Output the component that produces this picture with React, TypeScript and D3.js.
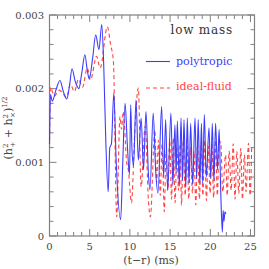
import React, { useEffect, useRef } from 'react';
import * as d3 from 'd3';

// amplitudes in units of 1e-3
const polyT = [0, 0.12, 0.35, 0.8, 1.3, 1.75, 2.15, 2.5, 2.8, 3.2, 3.65, 4.0, 4.4, 4.7, 4.95, 5.35, 5.75, 6.15, 6.5, 6.75, 7.0, 7.3, 7.5, 7.7, 8.0, 8.3, 8.85, 9.1, 9.4, 9.7, 9.95, 10.1, 10.25, 10.45, 10.76, 11.05, 11.4, 11.7, 12.0, 12.3, 12.5, 12.9, 13.2, 13.5, 13.95, 14.2, 14.45, 14.7, 15.1, 15.35, 15.6, 15.75, 15.9, 16.15, 16.36, 16.55, 16.73, 16.95, 17.14, 17.35, 17.56, 17.8, 18.1, 18.3, 18.5, 18.7, 18.9, 19.05, 19.26, 19.5, 19.84, 20.05, 20.25, 20.45, 20.66, 20.9, 21.1, 21.3, 21.5, 21.6, 21.7, 21.83, 21.95];
const polyV = [1.25, 1.92, 1.83, 1.98, 2.11, 1.95, 1.86, 2.05, 2.27, 2.1, 2.0, 2.2, 2.46, 2.25, 2.13, 2.4, 2.73, 2.53, 2.87, 2.3, 1.3, 0.6, 1.2, 1.25, 1.94, 1.0, 0.22, 0.95, 1.8, 1.2, 0.83, 1.78, 1.2, 0.95, 1.85, 1.03, 1.6, 0.9, 1.69, 0.85, 0.63, 1.67, 0.9, 0.58, 1.76, 0.8, 1.58, 0.62, 1.67, 0.7, 1.51, 0.85, 1.56, 0.68, 1.6, 0.75, 1.58, 0.66, 1.6, 0.72, 1.53, 0.7, 1.6, 0.78, 1.58, 0.7, 1.53, 0.72, 1.65, 0.8, 1.47, 0.78, 1.53, 0.75, 1.53, 0.9, 1.45, 0.6, 0.05, 0.35, 0.2, 0.33, 0.3];

const idealT = [0, 0.12, 0.6, 1.2, 1.7, 2.1, 2.6, 3.1, 3.6, 4.1, 4.7, 5.1, 5.85, 6.3, 7.2, 7.6, 7.95, 8.36, 8.77, 8.95, 9.18, 9.6, 9.8, 10.2, 10.6, 11.05, 11.4, 11.9, 12.3, 12.55, 13.1, 13.32, 13.55, 13.78, 14.0, 14.28, 14.5, 14.72, 14.95, 15.18, 15.4, 15.62, 15.85, 16.05, 16.25, 16.42, 16.65, 16.88, 17.1, 17.32, 17.55, 17.78, 17.98, 18.2, 18.42, 18.65, 18.88, 19.08, 19.3, 19.52, 19.75, 19.98, 20.2, 20.42, 20.65, 20.88, 21.08, 21.3, 21.55, 21.9, 22.1, 22.35, 22.6, 22.85, 23.08, 23.3, 23.55, 23.8, 24.0, 24.25, 24.45, 24.75, 24.95, 25.15];
const idealV = [1.2, 2.02, 1.9, 1.98, 1.93, 1.88, 2.06, 1.96, 2.13, 2.02, 2.28, 2.12, 2.44, 2.28, 2.84, 2.6, 2.37, 0.26, 1.62, 1.45, 1.69, 1.0, 0.9, 0.45, 1.4, 2.01, 0.67, 1.49, 0.49, 0.26, 1.44, 0.72, 1.3, 0.55, 1.25, 0.33, 1.15, 0.62, 1.3, 0.5, 1.33, 0.45, 1.2, 0.62, 1.25, 0.42, 1.3, 0.55, 1.33, 0.5, 1.2, 0.58, 1.15, 0.42, 1.25, 0.5, 1.28, 0.55, 1.3, 0.48, 1.22, 0.58, 1.25, 0.52, 1.3, 0.55, 1.2, 1.28, 0.6, 1.1, 0.55, 1.15, 0.62, 1.25, 0.5, 1.15, 0.58, 1.19, 0.5, 1.1, 0.6, 1.26, 0.55, 1.2];

const xTicks = [0, 5, 10, 15, 20, 25];
const yTicks = [0, 1, 2, 3];
const yTickLabels = ['0', '0.001', '0.002', '0.003'];

const App = () => {
  const ref = useRef<SVGSVGElement>(null);

  useEffect(() => {
    const svg = d3.select(ref.current);
    svg.selectAll('*').remove();

    const x = d3.scaleLinear().domain([0, 25.5]).range([49.5, 254.5]);
    const y = d3.scaleLinear().domain([0, 3]).range([236, 15]);
    const axisCol = '#808080';
    const font = 'DejaVu Serif';

    // frame
    svg.append('rect')
      .attr('x', x(0)).attr('y', y(3))
      .attr('width', x(25.5) - x(0)).attr('height', y(0) - y(3))
      .attr('fill', 'none').attr('stroke', axisCol).attr('stroke-width', 1.2);

    // ticks on all four sides
    const xMinor = d3.range(0, 26, 1);
    xMinor.forEach((t) => {
      const len = t % 5 === 0 ? 7 : 4;
      svg.append('line').attr('x1', x(t)).attr('x2', x(t)).attr('y1', y(0)).attr('y2', y(0) - len)
        .attr('stroke', axisCol);
      svg.append('line').attr('x1', x(t)).attr('x2', x(t)).attr('y1', y(3)).attr('y2', y(3) + len)
        .attr('stroke', axisCol);
    });
    const yMinor = d3.range(0, 16).map((i) => i * 0.2);
    yMinor.forEach((v, i) => {
      const len = i % 5 === 0 ? 7 : 4;
      svg.append('line').attr('x1', x(0)).attr('x2', x(0) + len).attr('y1', y(v)).attr('y2', y(v))
        .attr('stroke', axisCol);
      svg.append('line').attr('x1', x(25.5)).attr('x2', x(25.5) - len).attr('y1', y(v)).attr('y2', y(v))
        .attr('stroke', axisCol);
    });

    svg.selectAll('.xl').data(xTicks).enter().append('text')
      .attr('x', (d) => x(d)).attr('y', 250)
      .attr('text-anchor', 'middle').attr('font-family', font).attr('font-size', 10)
      .attr('fill', '#444').text((d) => String(d));

    svg.selectAll('.yl').data(yTicks).enter().append('text')
      .attr('x', 44).attr('y', (d) => y(d) + 3.5)
      .attr('text-anchor', 'end').attr('font-family', font).attr('font-size', 10)
      .attr('fill', '#444').text((d, i) => yTickLabels[i]);

    // axis titles
    svg.append('text').attr('x', 151).attr('y', 264)
      .attr('text-anchor', 'middle').attr('font-family', font).attr('font-size', 11)
      .attr('fill', '#444').text('(t\u2212r) (ms)');

    const yt = svg.append('text')
      .attr('transform', 'translate(12,128) rotate(-90)')
      .attr('text-anchor', 'middle').attr('font-family', font).attr('font-size', 11)
      .attr('fill', '#444');
    yt.append('tspan').text('(h');
    yt.append('tspan').attr('font-size', 7).attr('dy', -4).text('2');
    yt.append('tspan').attr('font-size', 7).attr('dx', -4).attr('dy', 7).text('+');
    yt.append('tspan').attr('dy', -3).text(' + h');
    yt.append('tspan').attr('font-size', 7).attr('dy', -4).text('2');
    yt.append('tspan').attr('font-size', 7).attr('dx', -4).attr('dy', 7).text('\u00d7');
    yt.append('tspan').attr('dy', -3).text(')');
    yt.append('tspan').attr('font-size', 7).attr('dy', -5).text('1/2');

    // curves
    const line = d3.line<[number, number]>()
      .x((d) => x(d[0])).y((d) => y(d[1]))
      .curve(d3.curveMonotoneX);

    svg.append('path')
      .datum(idealT.map((t, i) => [t, idealV[i]] as [number, number]))
      .attr('d', line).attr('fill', 'none')
      .attr('stroke', '#ff4444').attr('stroke-width', 1.1).attr('stroke-dasharray', '4,3');

    svg.append('path')
      .datum(polyT.map((t, i) => [t, polyV[i]] as [number, number]))
      .attr('d', line).attr('fill', 'none')
      .attr('stroke', '#3d3dff').attr('stroke-width', 1.1);

    // labels / legend
    svg.append('text').attr('x', 170.5).attr('y', 33.5)
      .attr('font-family', font).attr('font-size', 12).attr('letter-spacing', 0.8)
      .attr('fill', '#333').text('low mass');

    svg.append('line').attr('x1', 146).attr('x2', 170).attr('y1', 61.5).attr('y2', 61.5)
      .attr('stroke', '#3d3dff').attr('stroke-width', 1.1);
    svg.append('text').attr('x', 176).attr('y', 64.5)
      .attr('font-family', font).attr('font-size', 11).attr('fill', '#3d3dff').text('polytropic');

    svg.append('line').attr('x1', 146).attr('x2', 170).attr('y1', 88).attr('y2', 88)
      .attr('stroke', '#ff4444').attr('stroke-width', 1.1).attr('stroke-dasharray', '4,3');
    svg.append('text').attr('x', 176).attr('y', 89.5)
      .attr('font-family', font).attr('font-size', 11).attr('fill', '#ff4444').text('ideal-fluid');
  }, []);

  return (
    <svg ref={ref} width={269} height={269}
      style={{ position: 'absolute', left: 0, top: 0, background: '#fff' }} />
  );
};

export default App;
